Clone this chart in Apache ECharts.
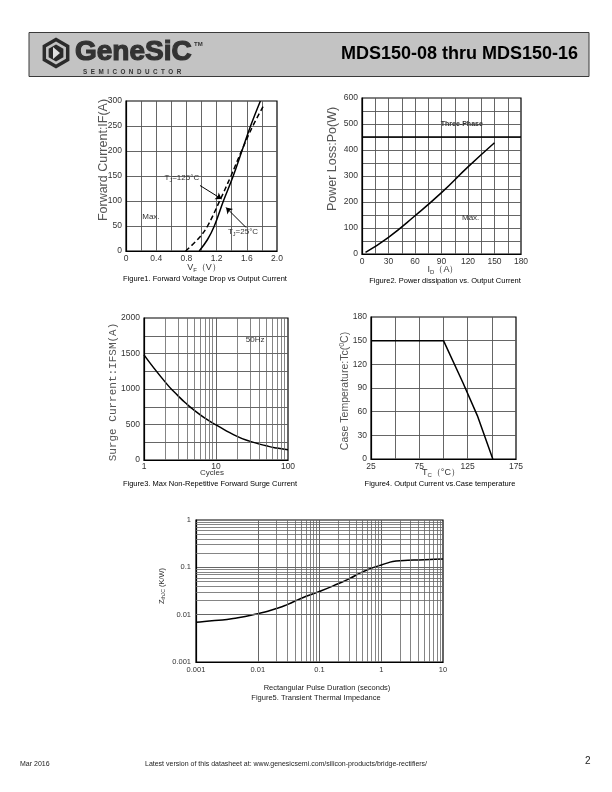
<!DOCTYPE html>
<html><head><meta charset="utf-8">
<script src="https://cdn.jsdelivr.net/npm/echarts@6/dist/echarts.min.js"></script>
<style>html,body{margin:0;padding:0;background:#fff}#c{width:612px;height:792px}</style>
</head><body><div id="c"></div>
<script>
// ---------- DATA ----------
// Figure 1: Forward voltage drop vs output current
const fig1Vf25  = [0.97, 1.08, 1.17, 1.29, 1.42, 1.535, 1.65, 1.78];
const fig1If25  = [0, 23, 50, 100, 150, 200, 250, 300];
const fig1Vf125 = [0.79, 0.96, 1.08, 1.24, 1.39, 1.53, 1.68, 1.82];
const fig1If125 = [0, 25, 50, 100, 150, 200, 250, 290];
// Figure 2: Power dissipation vs output current
const fig2Id = [4, 30, 60, 90, 120, 150];
const fig2Pd = [6, 64, 147, 236, 335, 428];
const fig2ThreePhase = 450;
// Figure 3: surge current vs cycles
const fig3Cycles = [1, 2, 3, 4, 5, 7, 10, 20, 30, 50, 70, 100];
const fig3Surge  = [1480, 1090, 900, 780, 700, 590, 494, 330, 262, 200, 168, 145];
// Figure 4: output current vs case temperature
const fig4Tc  = [25, 100, 120, 135, 151];
const fig4Cur = [150, 150, 97, 55, 0];
// Figure 5: transient thermal impedance
const fig5T = [0.001, 0.002, 0.004, 0.01, 0.02, 0.03, 0.05, 0.1, 0.2, 0.3, 0.5, 1, 2, 5, 10];
const fig5Z = [0.0069, 0.0075, 0.0083, 0.0105, 0.0135, 0.0163, 0.022, 0.031, 0.045, 0.057, 0.08, 0.112, 0.137, 0.145, 0.15];
// log-axis minor grid multipliers
const minorMult = [2, 3, 4, 5, 6, 7, 8, 9];
const fig3Decades = [1, 10];
const fig5XDecades = [0.001, 0.01, 0.1, 1];
const fig5YDecades = [0.001, 0.01, 0.1];

// ---------- HELPERS ----------
const FONT = '"Liberation Sans", Arial, sans-serif';
const zip = (a, b) => a.map((v, i) => [v, b[i]]);
const minors = decs => { const r = []; decs.forEach(d => minorMult.forEach(m => r.push(+(d * m).toPrecision(3)))); return r; };
const logFmt = v => String(parseFloat((+v).toPrecision(3)));
const gridLine = { show: true, lineStyle: { color: '#555', width: 0.9 }, showMinLine: false, showMaxLine: false };
const lbl = (extra) => Object.assign({ color: '#333', fontSize: 8.5, fontFamily: FONT }, extra || {});
function xAx(gi, o) {
  return Object.assign({ gridIndex: gi, axisLine: { show: true, lineStyle: { color: '#000', width: 1.2 } }, axisTick: { show: false },
    splitLine: gridLine, axisLabel: lbl({ margin: 3 }) }, o);
}
function yAx(gi, o) {
  return Object.assign({ gridIndex: gi, axisLine: { show: true, lineStyle: { color: '#000', width: 1.2 } }, axisTick: { show: false },
    splitLine: gridLine, axisLabel: lbl({ margin: 4 }) }, o);
}
const curve = { color: '#000', width: 1.5 };
const textMark = (coord, text, extra) => ({ coord: coord, value: text,
  label: Object.assign({ show: true, position: 'inside', formatter: text, color: '#333', fontSize: 8, fontFamily: FONT,
    rich: { s: { fontSize: 5.5, padding: [4, 0, 0, 0], color: '#333', fontFamily: FONT }, n: { fontSize: 8, color: '#333', fontFamily: FONT } } }, extra || {}) });
const markPointBase = data => ({ symbol: 'circle', symbolSize: 1, itemStyle: { color: 'rgba(0,0,0,0)' }, silent: true, animation: false, data: data });
const minorLines = (xs, ys) => ({
  symbol: ['none', 'none'], silent: true, animation: false, label: { show: false },
  lineStyle: { color: '#666', width: 0.8, type: 'solid' },
  data: xs.map(v => ({ xAxis: v })).concat(ys.map(v => ({ yAxis: v })))
});

// ---------- GRAPHIC (page decoration & captions) ----------
function hex(cx, cy, r) { const p = []; for (let k = 0; k < 6; k++) { const a = Math.PI / 2 + k * Math.PI / 3; p.push([cx + r * Math.cos(a), cy + r * Math.sin(a)]); } return p; }
const txt = (x, y, text, font, extra) => ({ type: 'text', x: x, y: y, silent: true,
  style: Object.assign({ text: text, font: font, fill: '#000', align: 'left', verticalAlign: 'middle', textAlign: 'left', textVerticalAlign: 'middle' }, extra || {}) });
const ctxt = (x, y, text, font, extra) => txt(x, y, text, font, Object.assign({ align: 'center', textAlign: 'center' }, extra || {}));
const vtxt = (x, y, text, font, extra) => Object.assign(ctxt(x, y, text, font, extra), { rotation: Math.PI / 2 });
const subRich = { s: { fontSize: 6, padding: [5, 0, 0, 0], fill: '#333', fontFamily: FONT } };

const graphics = [
  { type: 'rect', shape: { x: 29, y: 32.5, width: 560, height: 44 }, style: { fill: '#c3c3c3', stroke: '#3a3a3a', lineWidth: 1 }, silent: true },
  { type: 'polygon', shape: { points: hex(56, 53, 15.5) }, style: { fill: '#2b2b2b' }, silent: true },
  { type: 'polygon', shape: { points: hex(56, 53, 11.5) }, style: { fill: '#c3c3c3' }, silent: true },
  { type: 'polygon', shape: { points: hex(56, 53, 8.5) }, style: { fill: '#2b2b2b' }, silent: true },
  { type: 'polygon', shape: { points: [[53, 47], [60, 53], [53, 59]] }, style: { fill: '#e0e0e0' }, silent: true },
  txt(75, 52.5, 'GeneSiC', 'bold 28px ' + FONT, { fill: '#333', stroke: '#333', lineWidth: 1.2 }),
  txt(194, 44, 'TM', 'bold 6px ' + FONT, { fill: '#333' }),
  txt(83, 72, 'S  E  M  I  C  O  N  D  U  C  T  O  R', 'bold 6.3px ' + FONT, { fill: '#333' }),
  txt(578, 54, 'MDS150-08 thru MDS150-16', 'bold 18px ' + FONT, { align: 'right', textAlign: 'right' }),
  // Figure 1 texts
  vtxt(104, 160, 'Forward Current:IF(A)', '12.5px ' + FONT, { fill: '#555' }),
  ctxt(204, 268, 'V{s|F}（V）', '9px ' + FONT, { fill: '#333', rich: subRich }),
  ctxt(205, 279, 'Figure1. Forward Voltage Drop vs Output Current', '7.5px ' + FONT),
  // Figure 2 texts
  vtxt(333, 159, 'Power Loss:Po(W)', '12.5px ' + FONT, { fill: '#555' }),
  ctxt(443, 270, 'I{s|D}（A）', '9px ' + FONT, { fill: '#333', rich: subRich }),
  ctxt(445, 281, 'Figure2. Power dissipation vs. Output Current', '7.5px ' + FONT),
  // Figure 3 texts
  vtxt(113, 392, 'Surge Current:IFSM(A)', '11px "Liberation Mono", monospace', { fill: '#555' }),
  ctxt(212, 473, 'Cycles', '8px ' + FONT, { fill: '#333' }),
  ctxt(210, 484, 'Figure3. Max Non-Repetitive Forward Surge Current', '7.5px ' + FONT),
  // Figure 4 texts
  vtxt(345, 391, 'Case Temperature:Tc({p|0}C)', '10.5px ' + FONT, { fill: '#555', rich: { p: { fontSize: 7, padding: [0, 0, 6, 0], fill: '#555', fontFamily: FONT } } }),
  ctxt(441, 473, 'T{s|C}（°C）', '9px ' + FONT, { fill: '#333', rich: subRich }),
  ctxt(440, 484, 'Figure4. Output Current vs.Case temperature', '7.5px ' + FONT),
  // Figure 5 texts
  vtxt(162, 586, 'Z{s|thJC} (K/W)', '7.5px ' + FONT, { fill: '#333', rich: { s: { fontSize: 5, padding: [3, 0, 0, 0], fill: '#333', fontFamily: FONT } } }),
  ctxt(327, 688, 'Rectangular Pulse Duration (seconds)', '7.5px ' + FONT, { fill: '#222' }),
  ctxt(316, 698, 'Figure5. Transient Thermal Impedance', '7.5px ' + FONT, { fill: '#222' }),
  // footer
  txt(20, 764, 'Mar 2016', '7px ' + FONT, { fill: '#222' }),
  txt(145, 764, 'Latest version of this datasheet at: www.genesicsemi.com/silicon-products/bridge-rectifiers/', '7px ' + FONT, { fill: '#222' }),
  txt(585, 761, '2', '10px ' + FONT, { fill: '#222' })
];

const gridBase = { show: true, borderColor: '#000', borderWidth: 1.2, backgroundColor: 'rgba(0,0,0,0)', containLabel: false };

const option = {
  animation: false,
  backgroundColor: '#fff',
  textStyle: { fontFamily: FONT },
  graphic: { elements: graphics },
  grid: [
    Object.assign({ left: 126, top: 101, width: 151, height: 150 }, gridBase),
    Object.assign({ left: 362, top: 98, width: 159, height: 156 }, gridBase),
    Object.assign({ left: 144, top: 318, width: 144, height: 142 }, gridBase),
    Object.assign({ left: 371, top: 317, width: 145, height: 142 }, gridBase),
    Object.assign({ left: 196, top: 520, width: 247, height: 142 }, gridBase)
  ],
  xAxis: [
    xAx(0, { type: 'value', min: 0, max: 2.0, interval: 0.2,
      axisLabel: lbl({ margin: 3, formatter: v => (Math.round(v * 10) % 4 === 0 ? (v === 0 ? '0' : v.toFixed(1)) : '') }) }),
    xAx(1, { type: 'value', min: 0, max: 180, interval: 15,
      axisLabel: lbl({ margin: 3, formatter: v => (v % 30 === 0 ? String(v) : '') }) }),
    xAx(2, { type: 'log', logBase: 10, min: 1, max: 100, axisLabel: lbl({ margin: 2, formatter: logFmt }) }),
    xAx(3, { type: 'value', min: 25, max: 175, interval: 25,
      axisLabel: lbl({ margin: 3, formatter: v => ((v - 25) % 50 === 0 ? String(v) : '') }) }),
    xAx(4, { type: 'log', logBase: 10, min: 0.001, max: 10, axisLabel: lbl({ margin: 4, fontSize: 7.5, formatter: logFmt }) })
  ],
  yAxis: [
    yAx(0, { type: 'value', min: 0, max: 300, interval: 50 }),
    yAx(1, { type: 'value', min: 0, max: 600, interval: 50,
      axisLabel: lbl({ margin: 4, formatter: v => (v % 100 === 0 ? String(v) : '') }) }),
    yAx(2, { type: 'value', min: 0, max: 2000, interval: 250,
      axisLabel: lbl({ margin: 4, formatter: v => (v % 500 === 0 ? String(v) : '') }) }),
    yAx(3, { type: 'value', min: 0, max: 180, interval: 30 }),
    yAx(4, { type: 'log', logBase: 10, min: 0.001, max: 1, axisLabel: lbl({ margin: 5, fontSize: 7.5, formatter: logFmt }) })
  ],
  series: [
    // Figure 1
    { type: 'line', xAxisIndex: 0, yAxisIndex: 0, data: zip(fig1Vf25, fig1If25), smooth: 0.4, showSymbol: false, lineStyle: curve, z: 3 },
    { type: 'line', xAxisIndex: 0, yAxisIndex: 0, data: zip(fig1Vf125, fig1If125), smooth: 0.4, showSymbol: false,
      lineStyle: { color: '#000', width: 1.5, type: [5, 3] }, z: 3 },
    { type: 'line', xAxisIndex: 0, yAxisIndex: 0, data: [], z: 4,
      markLine: { symbol: ['none', 'arrow'], symbolSize: 6, silent: true, animation: false, label: { show: false },
        lineStyle: { color: '#000', width: 1, type: 'solid' },
        data: [[{ coord: [0.98, 131] }, { coord: [1.267, 104] }], [{ coord: [1.59, 47] }, { coord: [1.325, 87] }]] },
      markPoint: markPointBase([
        textMark([0.74, 146], 'T{s|J}=125°C'),
        textMark([1.55, 38], 'T{s|J}=25°C'),
        textMark([0.33, 68], 'Max.')
      ]) },
    // Figure 2
    { type: 'line', xAxisIndex: 1, yAxisIndex: 1, data: zip(fig2Id, fig2Pd), smooth: 0.5, showSymbol: false, lineStyle: curve, z: 3,
      markLine: { symbol: ['none', 'none'], silent: true, animation: false, label: { show: false },
        lineStyle: { color: '#000', width: 1.5, type: 'solid' }, data: [{ yAxis: fig2ThreePhase }] },
      markPoint: markPointBase([
        textMark([113, 500], 'Three-Phase', { fontWeight: 'bold', fontSize: 7 }),
        textMark([123, 140], 'Max.')
      ]) },
    // Figure 3
    { type: 'line', xAxisIndex: 2, yAxisIndex: 2, data: [], z: 1, markLine: minorLines(minors(fig3Decades), []) },
    { type: 'line', xAxisIndex: 2, yAxisIndex: 2, data: zip(fig3Cycles, fig3Surge), smooth: 0.6, showSymbol: false, lineStyle: curve, z: 3,
      markPoint: markPointBase([textMark([35, 1690], '50Hz')]) },
    // Figure 4
    { type: 'line', xAxisIndex: 3, yAxisIndex: 3, data: zip(fig4Tc, fig4Cur), showSymbol: false, lineStyle: curve, z: 3 },
    // Figure 5
    { type: 'line', xAxisIndex: 4, yAxisIndex: 4, data: [], z: 1, markLine: minorLines(minors(fig5XDecades), minors(fig5YDecades)) },
    { type: 'line', xAxisIndex: 4, yAxisIndex: 4, data: zip(fig5T, fig5Z), smooth: 0.6, showSymbol: false, lineStyle: curve, z: 3 }
  ]
};

const chart = echarts.init(document.getElementById('c'), null, { renderer: 'canvas', width: 612, height: 792 });
chart.setOption(option);
</script>
</body></html>
